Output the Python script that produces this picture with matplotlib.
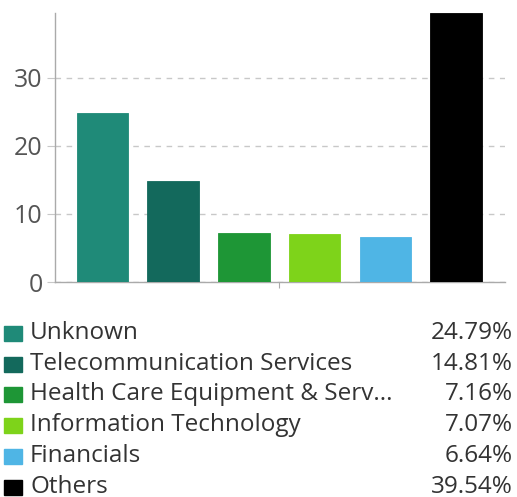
import matplotlib

matplotlib.use("Agg")
import matplotlib.pyplot as plt
import matplotlib.patches as mpatches

categories = [
    "Unknown",
    "Telecommunication Services",
    "Health Care Equipment & Serv...",
    "Information Technology",
    "Financials",
    "Others",
]
values = [24.79, 14.81, 7.16, 7.07, 6.64, 39.54]
colors = ["#1f8a78", "#13695c", "#1e9636", "#7ed31a", "#4fb5e5", "#000000"]
y_ticks = [0, 10, 20, 30]

W, H = 517, 497
plt.rcParams["font.family"] = ["Open Sans", "DejaVu Sans"]

fig = plt.figure(figsize=(W / 100, H / 100), dpi=100)
ax = fig.add_axes([55 / W, 215 / H, 450 / W, 269 / H])

x = list(range(len(values)))
ax.bar(x, values, width=0.73, color=colors, edgecolor=colors, linewidth=0.6, zorder=3)

ax.set_xlim(-0.67, 5.69)
ax.set_ylim(0, max(values))
ax.set_yticks(y_ticks)
ax.set_yticklabels([str(t) for t in y_ticks], fontsize=18, color="#555555")
ax.yaxis.grid(True, linestyle=(0, (4, 4)), color="#c8c8c8", linewidth=1, zorder=0)
ax.set_xticks([2.5])
ax.set_xticklabels([""])
ax.tick_params(axis="x", length=4, color="#aaaaaa")
ax.tick_params(axis="y", length=6, color="#c8c8c8", pad=3)

for side in ("top", "right"):
    ax.spines[side].set_visible(False)
for side in ("left", "bottom"):
    ax.spines[side].set_color("#aaaaaa")
    ax.spines[side].set_linewidth(1)

# legend table below the chart
row_y = [333, 364, 394, 425, 456, 487]
for name, val, col, py in zip(categories, values, colors, row_y):
    fy = 1 - py / H
    fig.patches.append(
        mpatches.Rectangle(
            (4 / W, fy - 7.5 / H), 18 / W, 15 / H,
            transform=fig.transFigure, color=col, figure=fig,
        )
    )
    fig.text(30 / W, fy, name, fontsize=17.5, color="#333333", va="center", ha="left")
    fig.text(513 / W, fy, f"{val:.2f}%", fontsize=17.5, color="#333333", va="center", ha="right")

fig.savefig("out.png", dpi=100)
